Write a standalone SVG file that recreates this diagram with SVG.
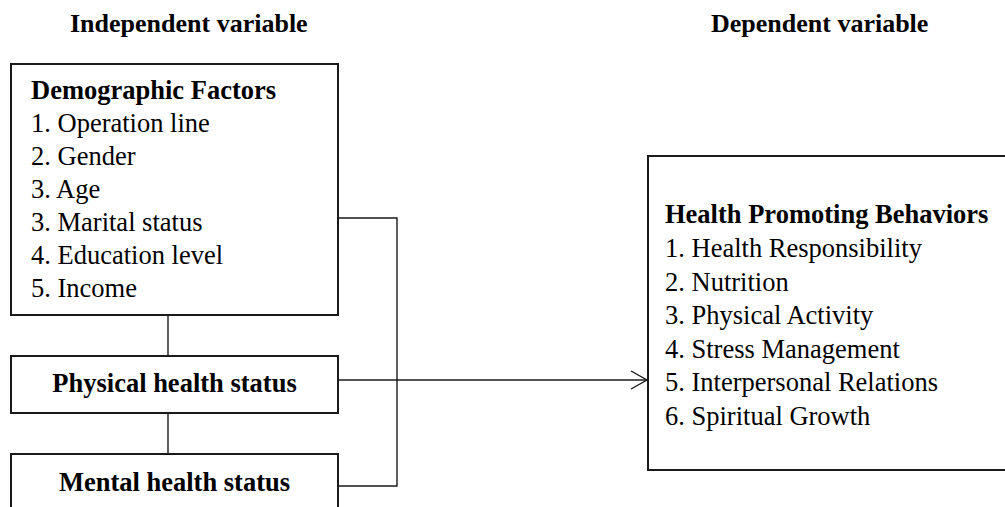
<svg xmlns="http://www.w3.org/2000/svg" width="1005" height="507" viewBox="0 0 1005 507">
<defs>
<style>
text { font-family: "Liberation Serif", "Times New Roman", serif; font-size: 26.5px; fill: #000; }
.b { font-weight: bold; }
.hdr { font-size: 26px; }
.box { fill: #fff; stroke: #1a1a1a; stroke-width: 2; }
.conn { fill: none; stroke: #1a1a1a; stroke-width: 1.4; }
</style>
<marker id="arr" markerWidth="20" markerHeight="22" refX="17" refY="10" orient="auto" markerUnits="userSpaceOnUse">
<path d="M1,1 L17,10 L1,19" fill="none" stroke="#1a1a1a" stroke-width="1.4"/>
</marker>
</defs>
<rect width="1005" height="507" fill="#fff"/>
<g id="headers">
<text class="b hdr" x="70" y="32">Independent variable</text>
<text class="b hdr" x="711" y="32">Dependent variable</text>
</g>
<g id="connectors">
<line class="conn" x1="168" y1="315" x2="168" y2="356"/>
<line class="conn" x1="168" y1="413" x2="168" y2="454"/>
<polyline class="conn" points="338,218 397,218 397,486 338,486"/>
<line class="conn" x1="338" y1="380" x2="647" y2="380" marker-end="url(#arr)"/>
</g>
<g id="demographic">
<rect class="box" x="11" y="64" width="327" height="251"/>
<text class="b" x="31" y="99">Demographic Factors</text>
<text x="31" y="132">1. Operation line</text>
<text x="31" y="165">2. Gender</text>
<text x="31" y="198">3. Age</text>
<text x="31" y="231">3. Marital status</text>
<text x="31" y="264">4. Education level</text>
<text x="31" y="297">5. Income</text>
</g>
<g id="physical">
<rect class="box" x="11" y="356" width="327" height="57"/>
<text class="b" x="174.5" y="392" text-anchor="middle">Physical health status</text>
</g>
<g id="mental">
<rect class="box" x="11" y="454" width="327" height="80"/>
<text class="b" x="174.5" y="491" text-anchor="middle">Mental health status</text>
</g>
<g id="behaviors">
<rect class="box" x="648" y="156" width="400" height="314"/>
<text class="b" x="665" y="223">Health Promoting Behaviors</text>
<text x="665" y="257">1. Health Responsibility</text>
<text x="665" y="290.5">2. Nutrition</text>
<text x="665" y="324">3. Physical Activity</text>
<text x="665" y="357.5">4. Stress Management</text>
<text x="665" y="391">5. Interpersonal Relations</text>
<text x="665" y="424.5">6. Spiritual Growth</text>
</g>
</svg>
